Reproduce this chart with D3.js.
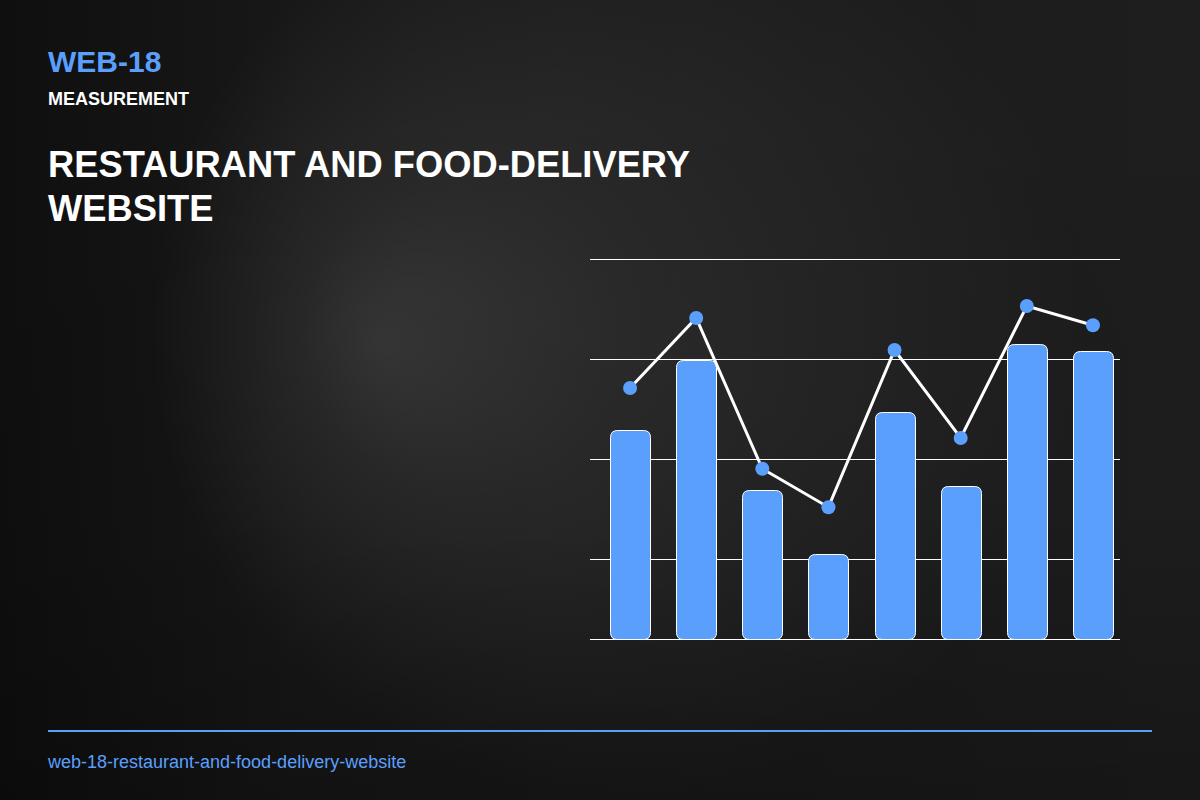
<!DOCTYPE html>
<html>
<head>
<meta charset="utf-8">
<script src="https://cdn.jsdelivr.net/npm/d3@7"></script>
<style>
  html, body { margin: 0; padding: 0; background: #161616; }
  svg { display: block; font-family: "Liberation Sans", Arial, sans-serif; }
</style>
</head>
<body>
<div id="chart"></div>
<script>
// values
const categories = ["A", "B", "C", "D", "E", "F", "G", "H"];
const barValues = [52.5, 70, 37.5, 21.5, 57, 38.5, 74, 72.3];
const lineValues = [63, 80.5, 42.8, 33.2, 72.5, 50.5, 83.5, 78.7];
const gridValues = [0, 20, 45, 70, 95];

const W = 1200, H = 800;
const BLUE = "#5b9ffd";

const svg = d3.select("#chart").append("svg")
  .attr("width", W).attr("height", H)
  .attr("viewBox", `0 0 ${W} ${H}`);

// background: dark base, darker on the left, soft light blob left of the chart
const defs = svg.append("defs");
const base = defs.append("linearGradient")
  .attr("id", "base").attr("x1", 0).attr("y1", 0).attr("x2", 1).attr("y2", 0);
base.append("stop").attr("offset", "0%").attr("stop-color", "#0f0f0f");
base.append("stop").attr("offset", "25%").attr("stop-color", "#181818");
base.append("stop").attr("offset", "100%").attr("stop-color", "#1e1e1e");

const glow = defs.append("radialGradient")
  .attr("id", "glow")
  .attr("gradientUnits", "userSpaceOnUse")
  .attr("cx", 620).attr("cy", 330).attr("r", 470)
  .attr("fx", 380).attr("fy", 340);
glow.append("stop").attr("offset", "0%").attr("stop-color", "#fff").attr("stop-opacity", 0.13);
glow.append("stop").attr("offset", "35%").attr("stop-color", "#fff").attr("stop-opacity", 0.07);
glow.append("stop").attr("offset", "100%").attr("stop-color", "#fff").attr("stop-opacity", 0);

const fade = defs.append("linearGradient")
  .attr("id", "fade").attr("x1", 0).attr("y1", 0).attr("x2", 0).attr("y2", 1);
fade.append("stop").attr("offset", "0%").attr("stop-color", "#000").attr("stop-opacity", 0);
fade.append("stop").attr("offset", "65%").attr("stop-color", "#000").attr("stop-opacity", 0.05);
fade.append("stop").attr("offset", "100%").attr("stop-color", "#000").attr("stop-opacity", 0.25);

svg.append("rect").attr("width", W).attr("height", H).attr("fill", "url(#base)");
svg.append("rect").attr("width", W).attr("height", H).attr("fill", "url(#glow)");
svg.append("rect").attr("width", W).attr("height", H).attr("fill", "url(#fade)");

// header
svg.append("text").attr("x", 48).attr("y", 72)
  .attr("fill", BLUE).attr("font-size", 30).attr("font-weight", "bold")
  .text("WEB-18");
svg.append("text").attr("x", 48).attr("y", 105)
  .attr("fill", "#fff").attr("font-size", 18).attr("font-weight", "bold")
  .text("MEASUREMENT");
const title = svg.append("text").attr("fill", "#fff")
  .attr("font-size", 36.3).attr("font-weight", "bold");
title.append("tspan").attr("x", 48).attr("y", 177).text("RESTAURANT AND FOOD-DELIVERY");
title.append("tspan").attr("x", 48).attr("y", 221).text("WEBSITE");

// chart
const x = d3.scaleBand()
  .domain(categories)
  .range([597, 1126])
  .paddingInner(0.395)
  .paddingOuter(0.1975);

const y = d3.scaleLinear()
  .domain([0, 95])
  .range([640, 260]);

svg.append("g").attr("class", "grid")
  .selectAll("line")
  .data(gridValues)
  .join("line")
    .attr("x1", 590).attr("x2", 1120)
    .attr("y1", d => Math.round(y(d)) - 0.5).attr("y2", d => Math.round(y(d)) - 0.5)
    .attr("stroke", "#fff").attr("stroke-width", 1);

svg.append("g").attr("class", "bars")
  .selectAll("path")
  .data(barValues)
  .join("path")
    .attr("d", (d, i) => {
      const x0 = Math.round(x(categories[i])) + 0.5, w = Math.round(x.bandwidth());
      const y0 = Math.round(y(d)) + 0.5, y1 = y(0) - 0.5, r = 7;
      return `M${x0},${y1 - r} L${x0},${y0 + r} Q${x0},${y0} ${x0 + r},${y0}
        L${x0 + w - r},${y0} Q${x0 + w},${y0} ${x0 + w},${y0 + r}
        L${x0 + w},${y1 - r} Q${x0 + w},${y1} ${x0 + w - r},${y1}
        L${x0 + r},${y1} Q${x0},${y1} ${x0},${y1 - r} Z`;
    })
    .attr("fill", BLUE).attr("stroke", "#fff").attr("stroke-width", 1);

const cx = (d, i) => x(categories[i]) + x.bandwidth() / 2;

svg.append("path")
  .datum(lineValues)
  .attr("d", d3.line().x(cx).y(d => y(d)))
  .attr("fill", "none").attr("stroke", "#fff").attr("stroke-width", 3);

svg.append("g").attr("class", "dots")
  .selectAll("circle")
  .data(lineValues)
  .join("circle")
    .attr("cx", cx).attr("cy", d => y(d)).attr("r", 7)
    .attr("fill", BLUE);

// footer
svg.append("line")
  .attr("x1", 48).attr("x2", 1152).attr("y1", 731).attr("y2", 731)
  .attr("stroke", BLUE).attr("stroke-width", 2);
svg.append("text").attr("x", 48).attr("y", 768)
  .attr("fill", BLUE).attr("font-size", 18)
  .text("web-18-restaurant-and-food-delivery-website");
</script>
</body>
</html>
